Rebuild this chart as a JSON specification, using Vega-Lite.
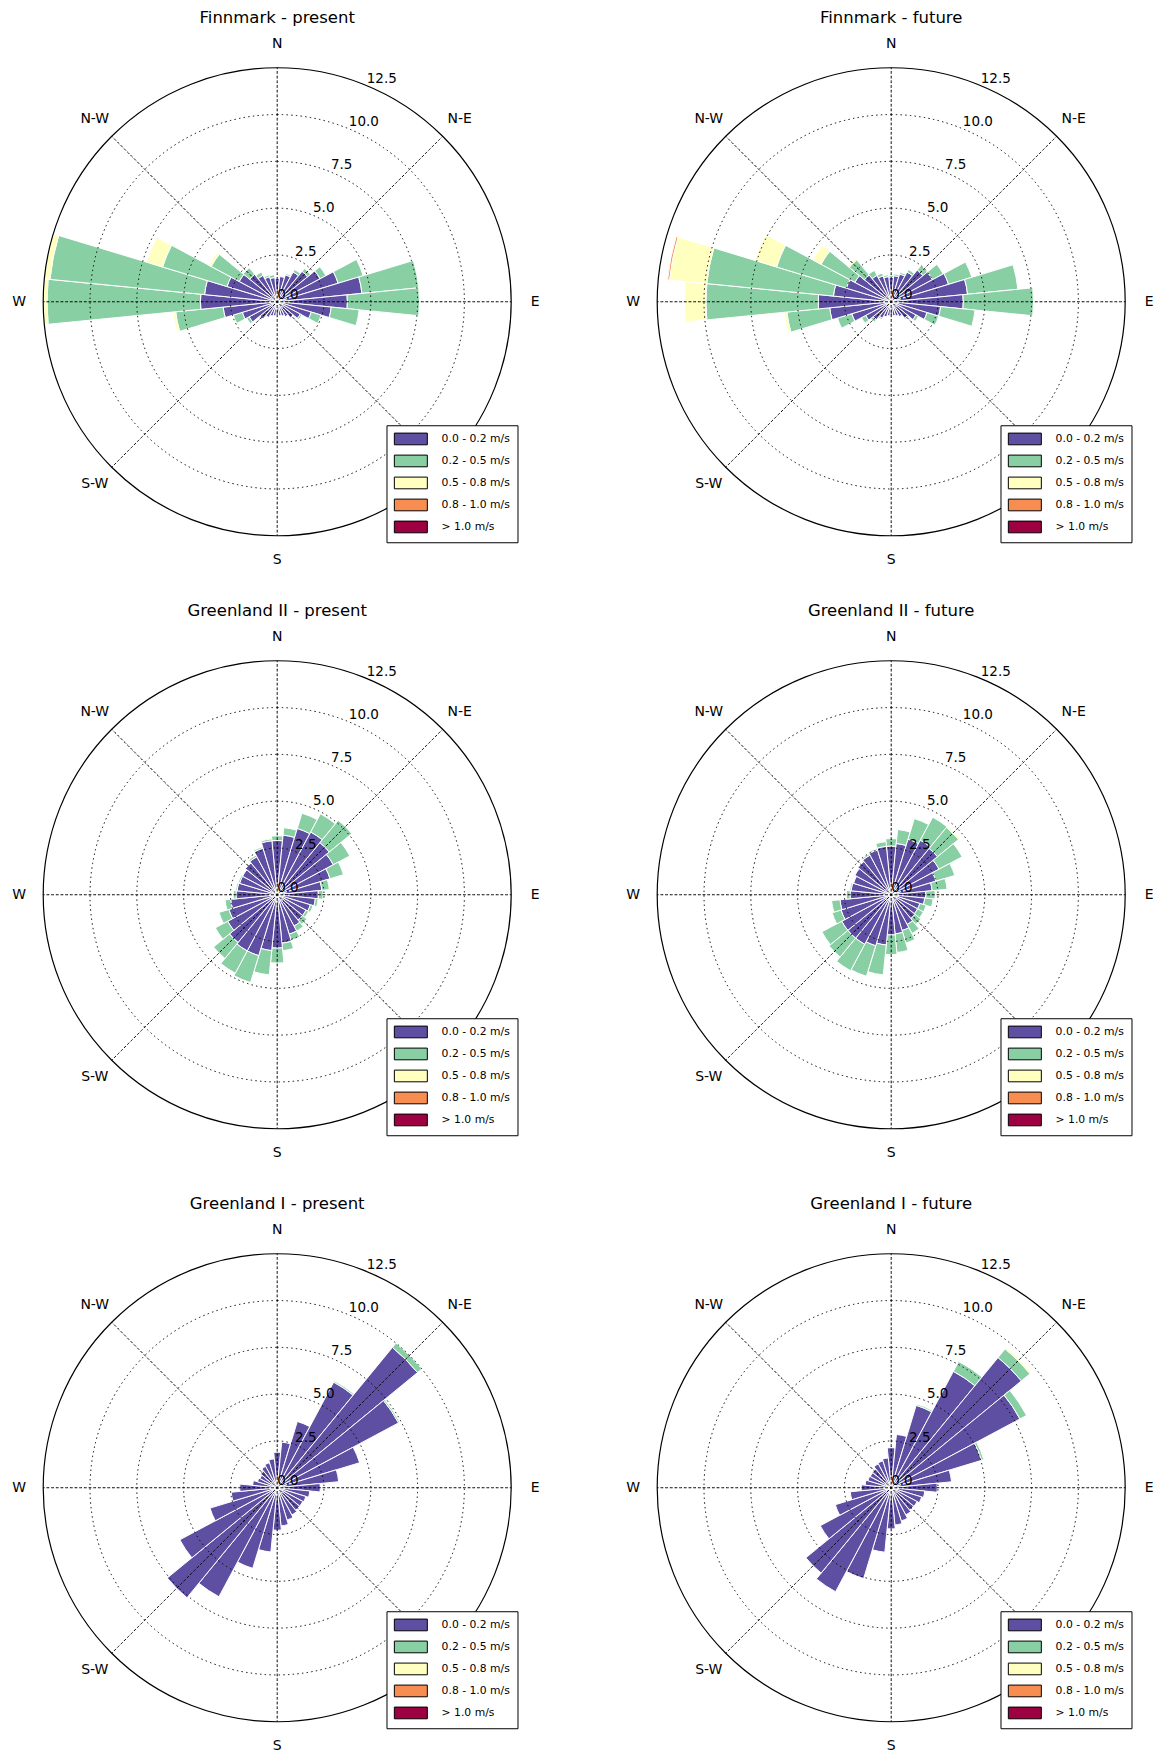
{
  "$schema": "https://vega.github.io/schema/vega-lite/v6.json",
  "background": "white",
  "padding": {"left": 12.2, "top": 9.75, "right": 0, "bottom": 0},
  "autosize": {"type": "pad"},
  "bounds": "flush",
  "columns": 2,
  "spacing": {"row": 61, "column": 86},
  "config": {
    "view": {"stroke": null},
    "font": "DejaVu Sans",
    "title": {"fontSize": 16.5, "font": "DejaVu Sans", "fontWeight": "normal", "color": "black", "anchor": "middle", "baseline": "middle", "offset": 9.5, "frame": "group"},
    "legend": {"padding": 7.2, "rowPadding": 5.0, "labelOffset": 34.9, "labelFontSize": 10.8, "labelFont": "DejaVu Sans", "labelColor": "black", "strokeColor": "black", "fillColor": "white", "symbolStrokeColor": "black", "symbolStrokeWidth": 1, "symbolOpacity": 1, "zindex": 1, "labelLimit": 300}
  },
  "datasets": {
    "rings": [{"r": 2.5}, {"r": 5}, {"r": 7.5}, {"r": 10}],
    "edge": [{"r": 12.5}],
    "spokes": [{"a": 0}, {"a": 45}, {"a": 90}, {"a": 135}, {"a": 180}, {"a": 225}, {"a": 270}, {"a": 315}],
    "ticks": [{"r": 0, "t": "0.0"}, {"r": 2.5, "t": "2.5"}, {"r": 5, "t": "5.0"}, {"r": 7.5, "t": "7.5"}, {"r": 10, "t": "10.0"}, {"r": 12.5, "t": "12.5"}],
    "compass": [{"a": 0, "t": "N"}, {"a": 45, "t": "N-E"}, {"a": 90, "t": "E"}, {"a": 180, "t": "S"}, {"a": 225, "t": "S-W"}, {"a": 270, "t": "W"}, {"a": 315, "t": "N-W"}],
    "wind": [
      {"p":"FP","d":0,"s":"0.0 - 0.2 m/s","f":1.25},
      {"p":"FP","d":11.25,"s":"0.0 - 0.2 m/s","f":1.35},
      {"p":"FP","d":22.5,"s":"0.0 - 0.2 m/s","f":1.5},{"p":"FP","d":22.5,"s":"0.2 - 0.5 m/s","f":0.08},
      {"p":"FP","d":33.75,"s":"0.0 - 0.2 m/s","f":1.8},{"p":"FP","d":33.75,"s":"0.2 - 0.5 m/s","f":0.15},
      {"p":"FP","d":45,"s":"0.0 - 0.2 m/s","f":2.1},{"p":"FP","d":45,"s":"0.2 - 0.5 m/s","f":0.2},
      {"p":"FP","d":56.25,"s":"0.0 - 0.2 m/s","f":2.6},{"p":"FP","d":56.25,"s":"0.2 - 0.5 m/s","f":0.35},
      {"p":"FP","d":67.5,"s":"0.0 - 0.2 m/s","f":3.4},{"p":"FP","d":67.5,"s":"0.2 - 0.5 m/s","f":1.4},
      {"p":"FP","d":78.75,"s":"0.0 - 0.2 m/s","f":4.55},{"p":"FP","d":78.75,"s":"0.2 - 0.5 m/s","f":3.05},
      {"p":"FP","d":90,"s":"0.0 - 0.2 m/s","f":3.75},{"p":"FP","d":90,"s":"0.2 - 0.5 m/s","f":3.85},
      {"p":"FP","d":101.25,"s":"0.0 - 0.2 m/s","f":2.9},{"p":"FP","d":101.25,"s":"0.2 - 0.5 m/s","f":1.5},
      {"p":"FP","d":112.5,"s":"0.0 - 0.2 m/s","f":1.9},{"p":"FP","d":112.5,"s":"0.2 - 0.5 m/s","f":0.55},
      {"p":"FP","d":123.75,"s":"0.0 - 0.2 m/s","f":1.4},{"p":"FP","d":123.75,"s":"0.2 - 0.5 m/s","f":0.1},
      {"p":"FP","d":135,"s":"0.0 - 0.2 m/s","f":1.1},
      {"p":"FP","d":146.25,"s":"0.0 - 0.2 m/s","f":0.9},
      {"p":"FP","d":157.5,"s":"0.0 - 0.2 m/s","f":0.8},
      {"p":"FP","d":168.75,"s":"0.0 - 0.2 m/s","f":0.75},
      {"p":"FP","d":180,"s":"0.0 - 0.2 m/s","f":0.7},
      {"p":"FP","d":191.25,"s":"0.0 - 0.2 m/s","f":0.75},
      {"p":"FP","d":202.5,"s":"0.0 - 0.2 m/s","f":0.8},
      {"p":"FP","d":213.75,"s":"0.0 - 0.2 m/s","f":0.95},
      {"p":"FP","d":225,"s":"0.0 - 0.2 m/s","f":1.2},{"p":"FP","d":225,"s":"0.2 - 0.5 m/s","f":0.08},
      {"p":"FP","d":236.25,"s":"0.0 - 0.2 m/s","f":1.7},{"p":"FP","d":236.25,"s":"0.2 - 0.5 m/s","f":0.15},
      {"p":"FP","d":247.5,"s":"0.0 - 0.2 m/s","f":1.95},{"p":"FP","d":247.5,"s":"0.2 - 0.5 m/s","f":0.5},
      {"p":"FP","d":258.75,"s":"0.0 - 0.2 m/s","f":2.9},{"p":"FP","d":258.75,"s":"0.2 - 0.5 m/s","f":2.55},{"p":"FP","d":258.75,"s":"0.5 - 0.8 m/s","f":0.15},
      {"p":"FP","d":270,"s":"0.0 - 0.2 m/s","f":4.1},{"p":"FP","d":270,"s":"0.2 - 0.5 m/s","f":8.2},{"p":"FP","d":270,"s":"0.5 - 0.8 m/s","f":0.2},
      {"p":"FP","d":281.25,"s":"0.0 - 0.2 m/s","f":3.9},{"p":"FP","d":281.25,"s":"0.2 - 0.5 m/s","f":8.3},{"p":"FP","d":281.25,"s":"0.5 - 0.8 m/s","f":0.3},
      {"p":"FP","d":292.5,"s":"0.0 - 0.2 m/s","f":2.8},{"p":"FP","d":292.5,"s":"0.2 - 0.5 m/s","f":3.6},{"p":"FP","d":292.5,"s":"0.5 - 0.8 m/s","f":0.9},
      {"p":"FP","d":303.75,"s":"0.0 - 0.2 m/s","f":2.3},{"p":"FP","d":303.75,"s":"0.2 - 0.5 m/s","f":1.7},{"p":"FP","d":303.75,"s":"0.5 - 0.8 m/s","f":0.15},
      {"p":"FP","d":315,"s":"0.0 - 0.2 m/s","f":1.9},{"p":"FP","d":315,"s":"0.2 - 0.5 m/s","f":0.45},
      {"p":"FP","d":326.25,"s":"0.0 - 0.2 m/s","f":1.6},{"p":"FP","d":326.25,"s":"0.2 - 0.5 m/s","f":0.2},
      {"p":"FP","d":337.5,"s":"0.0 - 0.2 m/s","f":1.4},{"p":"FP","d":337.5,"s":"0.2 - 0.5 m/s","f":0.1},
      {"p":"FP","d":348.75,"s":"0.0 - 0.2 m/s","f":1.3},{"p":"FP","d":348.75,"s":"0.2 - 0.5 m/s","f":0.15},

      {"p":"FF","d":0,"s":"0.0 - 0.2 m/s","f":1.3},{"p":"FF","d":0,"s":"0.2 - 0.5 m/s","f":0.1},
      {"p":"FF","d":11.25,"s":"0.0 - 0.2 m/s","f":1.4},{"p":"FF","d":11.25,"s":"0.2 - 0.5 m/s","f":0.1},
      {"p":"FF","d":22.5,"s":"0.0 - 0.2 m/s","f":1.55},{"p":"FF","d":22.5,"s":"0.2 - 0.5 m/s","f":0.1},
      {"p":"FF","d":33.75,"s":"0.0 - 0.2 m/s","f":1.8},{"p":"FF","d":33.75,"s":"0.2 - 0.5 m/s","f":0.15},
      {"p":"FF","d":45,"s":"0.0 - 0.2 m/s","f":2.2},{"p":"FF","d":45,"s":"0.2 - 0.5 m/s","f":0.3},
      {"p":"FF","d":56.25,"s":"0.0 - 0.2 m/s","f":2.5},{"p":"FF","d":56.25,"s":"0.2 - 0.5 m/s","f":0.65},
      {"p":"FF","d":67.5,"s":"0.0 - 0.2 m/s","f":3.2},{"p":"FF","d":67.5,"s":"0.2 - 0.5 m/s","f":1.3},
      {"p":"FF","d":78.75,"s":"0.0 - 0.2 m/s","f":4.1},{"p":"FF","d":78.75,"s":"0.2 - 0.5 m/s","f":2.7},
      {"p":"FF","d":90,"s":"0.0 - 0.2 m/s","f":3.85},{"p":"FF","d":90,"s":"0.2 - 0.5 m/s","f":3.75},
      {"p":"FF","d":101.25,"s":"0.0 - 0.2 m/s","f":2.65},{"p":"FF","d":101.25,"s":"0.2 - 0.5 m/s","f":1.85},
      {"p":"FF","d":112.5,"s":"0.0 - 0.2 m/s","f":2.0},{"p":"FF","d":112.5,"s":"0.2 - 0.5 m/s","f":0.65},
      {"p":"FF","d":123.75,"s":"0.0 - 0.2 m/s","f":1.5},{"p":"FF","d":123.75,"s":"0.2 - 0.5 m/s","f":0.15},
      {"p":"FF","d":135,"s":"0.0 - 0.2 m/s","f":1.15},{"p":"FF","d":135,"s":"0.2 - 0.5 m/s","f":0.08},
      {"p":"FF","d":146.25,"s":"0.0 - 0.2 m/s","f":0.9},
      {"p":"FF","d":157.5,"s":"0.0 - 0.2 m/s","f":0.8},
      {"p":"FF","d":168.75,"s":"0.0 - 0.2 m/s","f":0.75},
      {"p":"FF","d":180,"s":"0.0 - 0.2 m/s","f":0.75},
      {"p":"FF","d":191.25,"s":"0.0 - 0.2 m/s","f":0.75},
      {"p":"FF","d":202.5,"s":"0.0 - 0.2 m/s","f":0.85},
      {"p":"FF","d":213.75,"s":"0.0 - 0.2 m/s","f":1.0},{"p":"FF","d":213.75,"s":"0.2 - 0.5 m/s","f":0.08},
      {"p":"FF","d":225,"s":"0.0 - 0.2 m/s","f":1.25},{"p":"FF","d":225,"s":"0.2 - 0.5 m/s","f":0.15},
      {"p":"FF","d":236.25,"s":"0.0 - 0.2 m/s","f":1.55},{"p":"FF","d":236.25,"s":"0.2 - 0.5 m/s","f":0.25},
      {"p":"FF","d":247.5,"s":"0.0 - 0.2 m/s","f":2.2},{"p":"FF","d":247.5,"s":"0.2 - 0.5 m/s","f":0.8},
      {"p":"FF","d":258.75,"s":"0.0 - 0.2 m/s","f":3.3},{"p":"FF","d":258.75,"s":"0.2 - 0.5 m/s","f":2.3},{"p":"FF","d":258.75,"s":"0.5 - 0.8 m/s","f":0.15},
      {"p":"FF","d":270,"s":"0.0 - 0.2 m/s","f":3.9},{"p":"FF","d":270,"s":"0.2 - 0.5 m/s","f":6.0},{"p":"FF","d":270,"s":"0.5 - 0.8 m/s","f":1.15},
      {"p":"FF","d":281.25,"s":"0.0 - 0.2 m/s","f":3.1},{"p":"FF","d":281.25,"s":"0.2 - 0.5 m/s","f":6.8},{"p":"FF","d":281.25,"s":"0.5 - 0.8 m/s","f":2.0},{"p":"FF","d":281.25,"s":"0.8 - 1.0 m/s","f":0.1},
      {"p":"FF","d":292.5,"s":"0.0 - 0.2 m/s","f":2.5},{"p":"FF","d":292.5,"s":"0.2 - 0.5 m/s","f":3.9},{"p":"FF","d":292.5,"s":"0.5 - 0.8 m/s","f":1.2},
      {"p":"FF","d":303.75,"s":"0.0 - 0.2 m/s","f":2.2},{"p":"FF","d":303.75,"s":"0.2 - 0.5 m/s","f":2.05},{"p":"FF","d":303.75,"s":"0.5 - 0.8 m/s","f":0.5},
      {"p":"FF","d":315,"s":"0.0 - 0.2 m/s","f":1.85},{"p":"FF","d":315,"s":"0.2 - 0.5 m/s","f":1.05},{"p":"FF","d":315,"s":"0.5 - 0.8 m/s","f":0.1},
      {"p":"FF","d":326.25,"s":"0.0 - 0.2 m/s","f":1.6},{"p":"FF","d":326.25,"s":"0.2 - 0.5 m/s","f":0.3},
      {"p":"FF","d":337.5,"s":"0.0 - 0.2 m/s","f":1.45},{"p":"FF","d":337.5,"s":"0.2 - 0.5 m/s","f":0.15},
      {"p":"FF","d":348.75,"s":"0.0 - 0.2 m/s","f":1.35},{"p":"FF","d":348.75,"s":"0.2 - 0.5 m/s","f":0.1},

      {"p":"G2P","d":0,"s":"0.0 - 0.2 m/s","f":2.9},{"p":"G2P","d":0,"s":"0.2 - 0.5 m/s","f":0.25},
      {"p":"G2P","d":11.25,"s":"0.0 - 0.2 m/s","f":3.2},{"p":"G2P","d":11.25,"s":"0.2 - 0.5 m/s","f":0.4},
      {"p":"G2P","d":22.5,"s":"0.0 - 0.2 m/s","f":3.7},{"p":"G2P","d":22.5,"s":"0.2 - 0.5 m/s","f":0.85},
      {"p":"G2P","d":33.75,"s":"0.0 - 0.2 m/s","f":3.8},{"p":"G2P","d":33.75,"s":"0.2 - 0.5 m/s","f":1.1},
      {"p":"G2P","d":45,"s":"0.0 - 0.2 m/s","f":3.6},{"p":"G2P","d":45,"s":"0.2 - 0.5 m/s","f":1.55},
      {"p":"G2P","d":56.25,"s":"0.0 - 0.2 m/s","f":3.4},{"p":"G2P","d":56.25,"s":"0.2 - 0.5 m/s","f":1.0},
      {"p":"G2P","d":67.5,"s":"0.0 - 0.2 m/s","f":2.95},{"p":"G2P","d":67.5,"s":"0.2 - 0.5 m/s","f":0.75},
      {"p":"G2P","d":78.75,"s":"0.0 - 0.2 m/s","f":2.4},{"p":"G2P","d":78.75,"s":"0.2 - 0.5 m/s","f":0.4},
      {"p":"G2P","d":90,"s":"0.0 - 0.2 m/s","f":2.2},{"p":"G2P","d":90,"s":"0.2 - 0.5 m/s","f":0.25},
      {"p":"G2P","d":101.25,"s":"0.0 - 0.2 m/s","f":2.05},{"p":"G2P","d":101.25,"s":"0.2 - 0.5 m/s","f":0.15},
      {"p":"G2P","d":112.5,"s":"0.0 - 0.2 m/s","f":1.85},{"p":"G2P","d":112.5,"s":"0.2 - 0.5 m/s","f":0.15},
      {"p":"G2P","d":123.75,"s":"0.0 - 0.2 m/s","f":1.75},{"p":"G2P","d":123.75,"s":"0.2 - 0.5 m/s","f":0.15},
      {"p":"G2P","d":135,"s":"0.0 - 0.2 m/s","f":1.75},{"p":"G2P","d":135,"s":"0.2 - 0.5 m/s","f":0.3},
      {"p":"G2P","d":146.25,"s":"0.0 - 0.2 m/s","f":1.9},{"p":"G2P","d":146.25,"s":"0.2 - 0.5 m/s","f":0.3},
      {"p":"G2P","d":157.5,"s":"0.0 - 0.2 m/s","f":2.2},{"p":"G2P","d":157.5,"s":"0.2 - 0.5 m/s","f":0.35},
      {"p":"G2P","d":168.75,"s":"0.0 - 0.2 m/s","f":2.6},{"p":"G2P","d":168.75,"s":"0.2 - 0.5 m/s","f":0.4},
      {"p":"G2P","d":180,"s":"0.0 - 0.2 m/s","f":2.85},{"p":"G2P","d":180,"s":"0.2 - 0.5 m/s","f":0.8},
      {"p":"G2P","d":191.25,"s":"0.0 - 0.2 m/s","f":3.0},{"p":"G2P","d":191.25,"s":"0.2 - 0.5 m/s","f":1.3},
      {"p":"G2P","d":202.5,"s":"0.0 - 0.2 m/s","f":3.4},{"p":"G2P","d":202.5,"s":"0.2 - 0.5 m/s","f":1.5},
      {"p":"G2P","d":213.75,"s":"0.0 - 0.2 m/s","f":3.4},{"p":"G2P","d":213.75,"s":"0.2 - 0.5 m/s","f":1.35},
      {"p":"G2P","d":225,"s":"0.0 - 0.2 m/s","f":3.3},{"p":"G2P","d":225,"s":"0.2 - 0.5 m/s","f":1.1},
      {"p":"G2P","d":236.25,"s":"0.0 - 0.2 m/s","f":3.0},{"p":"G2P","d":236.25,"s":"0.2 - 0.5 m/s","f":0.75},
      {"p":"G2P","d":247.5,"s":"0.0 - 0.2 m/s","f":2.7},{"p":"G2P","d":247.5,"s":"0.2 - 0.5 m/s","f":0.55},
      {"p":"G2P","d":258.75,"s":"0.0 - 0.2 m/s","f":2.5},{"p":"G2P","d":258.75,"s":"0.2 - 0.5 m/s","f":0.3},
      {"p":"G2P","d":270,"s":"0.0 - 0.2 m/s","f":2.2},{"p":"G2P","d":270,"s":"0.2 - 0.5 m/s","f":0.15},
      {"p":"G2P","d":281.25,"s":"0.0 - 0.2 m/s","f":2.15},{"p":"G2P","d":281.25,"s":"0.2 - 0.5 m/s","f":0.08},
      {"p":"G2P","d":292.5,"s":"0.0 - 0.2 m/s","f":2.1},{"p":"G2P","d":292.5,"s":"0.2 - 0.5 m/s","f":0.08},
      {"p":"G2P","d":303.75,"s":"0.0 - 0.2 m/s","f":2.1},
      {"p":"G2P","d":315,"s":"0.0 - 0.2 m/s","f":2.2},
      {"p":"G2P","d":326.25,"s":"0.0 - 0.2 m/s","f":2.3},{"p":"G2P","d":326.25,"s":"0.2 - 0.5 m/s","f":0.1},
      {"p":"G2P","d":337.5,"s":"0.0 - 0.2 m/s","f":2.6},{"p":"G2P","d":337.5,"s":"0.2 - 0.5 m/s","f":0.08},
      {"p":"G2P","d":348.75,"s":"0.0 - 0.2 m/s","f":2.9},{"p":"G2P","d":348.75,"s":"0.2 - 0.5 m/s","f":0.1},

      {"p":"G2F","d":0,"s":"0.0 - 0.2 m/s","f":2.6},{"p":"G2F","d":0,"s":"0.2 - 0.5 m/s","f":0.4},
      {"p":"G2F","d":11.25,"s":"0.0 - 0.2 m/s","f":2.75},{"p":"G2F","d":11.25,"s":"0.2 - 0.5 m/s","f":0.75},
      {"p":"G2F","d":22.5,"s":"0.0 - 0.2 m/s","f":3.1},{"p":"G2F","d":22.5,"s":"0.2 - 0.5 m/s","f":1.15},
      {"p":"G2F","d":33.75,"s":"0.0 - 0.2 m/s","f":3.3},{"p":"G2F","d":33.75,"s":"0.2 - 0.5 m/s","f":1.4},
      {"p":"G2F","d":45,"s":"0.0 - 0.2 m/s","f":3.2},{"p":"G2F","d":45,"s":"0.2 - 0.5 m/s","f":1.45},{"p":"G2F","d":45,"s":"0.5 - 0.8 m/s","f":0.08},
      {"p":"G2F","d":56.25,"s":"0.0 - 0.2 m/s","f":2.9},{"p":"G2F","d":56.25,"s":"0.2 - 0.5 m/s","f":1.4},
      {"p":"G2F","d":67.5,"s":"0.0 - 0.2 m/s","f":2.5},{"p":"G2F","d":67.5,"s":"0.2 - 0.5 m/s","f":1.05},
      {"p":"G2F","d":78.75,"s":"0.0 - 0.2 m/s","f":2.2},{"p":"G2F","d":78.75,"s":"0.2 - 0.5 m/s","f":0.8},
      {"p":"G2F","d":90,"s":"0.0 - 0.2 m/s","f":1.85},{"p":"G2F","d":90,"s":"0.2 - 0.5 m/s","f":0.5},
      {"p":"G2F","d":101.25,"s":"0.0 - 0.2 m/s","f":1.8},{"p":"G2F","d":101.25,"s":"0.2 - 0.5 m/s","f":0.45},
      {"p":"G2F","d":112.5,"s":"0.0 - 0.2 m/s","f":1.6},{"p":"G2F","d":112.5,"s":"0.2 - 0.5 m/s","f":0.35},
      {"p":"G2F","d":123.75,"s":"0.0 - 0.2 m/s","f":1.6},{"p":"G2F","d":123.75,"s":"0.2 - 0.5 m/s","f":0.35},
      {"p":"G2F","d":135,"s":"0.0 - 0.2 m/s","f":1.65},{"p":"G2F","d":135,"s":"0.2 - 0.5 m/s","f":0.4},
      {"p":"G2F","d":146.25,"s":"0.0 - 0.2 m/s","f":1.8},{"p":"G2F","d":146.25,"s":"0.2 - 0.5 m/s","f":0.55},
      {"p":"G2F","d":157.5,"s":"0.0 - 0.2 m/s","f":2.0},{"p":"G2F","d":157.5,"s":"0.2 - 0.5 m/s","f":0.7},
      {"p":"G2F","d":168.75,"s":"0.0 - 0.2 m/s","f":2.1},{"p":"G2F","d":168.75,"s":"0.2 - 0.5 m/s","f":1.0},
      {"p":"G2F","d":180,"s":"0.0 - 0.2 m/s","f":2.15},{"p":"G2F","d":180,"s":"0.2 - 0.5 m/s","f":1.05},
      {"p":"G2F","d":191.25,"s":"0.0 - 0.2 m/s","f":2.7},{"p":"G2F","d":191.25,"s":"0.2 - 0.5 m/s","f":1.6},
      {"p":"G2F","d":202.5,"s":"0.0 - 0.2 m/s","f":2.85},{"p":"G2F","d":202.5,"s":"0.2 - 0.5 m/s","f":1.7},
      {"p":"G2F","d":213.75,"s":"0.0 - 0.2 m/s","f":3.0},{"p":"G2F","d":213.75,"s":"0.2 - 0.5 m/s","f":1.6},
      {"p":"G2F","d":225,"s":"0.0 - 0.2 m/s","f":3.0},{"p":"G2F","d":225,"s":"0.2 - 0.5 m/s","f":1.3},
      {"p":"G2F","d":236.25,"s":"0.0 - 0.2 m/s","f":3.0},{"p":"G2F","d":236.25,"s":"0.2 - 0.5 m/s","f":1.2},
      {"p":"G2F","d":247.5,"s":"0.0 - 0.2 m/s","f":2.8},{"p":"G2F","d":247.5,"s":"0.2 - 0.5 m/s","f":0.5},
      {"p":"G2F","d":258.75,"s":"0.0 - 0.2 m/s","f":2.75},{"p":"G2F","d":258.75,"s":"0.2 - 0.5 m/s","f":0.45},
      {"p":"G2F","d":270,"s":"0.0 - 0.2 m/s","f":2.2},{"p":"G2F","d":270,"s":"0.2 - 0.5 m/s","f":0.2},
      {"p":"G2F","d":281.25,"s":"0.0 - 0.2 m/s","f":2.15},{"p":"G2F","d":281.25,"s":"0.2 - 0.5 m/s","f":0.08},
      {"p":"G2F","d":292.5,"s":"0.0 - 0.2 m/s","f":2.1},
      {"p":"G2F","d":303.75,"s":"0.0 - 0.2 m/s","f":2.2},
      {"p":"G2F","d":315,"s":"0.0 - 0.2 m/s","f":2.3},
      {"p":"G2F","d":326.25,"s":"0.0 - 0.2 m/s","f":2.4},{"p":"G2F","d":326.25,"s":"0.2 - 0.5 m/s","f":0.08},
      {"p":"G2F","d":337.5,"s":"0.0 - 0.2 m/s","f":2.5},{"p":"G2F","d":337.5,"s":"0.2 - 0.5 m/s","f":0.08},
      {"p":"G2F","d":348.75,"s":"0.0 - 0.2 m/s","f":2.6},{"p":"G2F","d":348.75,"s":"0.2 - 0.5 m/s","f":0.25},

      {"p":"G1P","d":0,"s":"0.0 - 0.2 m/s","f":1.9},
      {"p":"G1P","d":11.25,"s":"0.0 - 0.2 m/s","f":2.45},
      {"p":"G1P","d":22.5,"s":"0.0 - 0.2 m/s","f":3.7},
      {"p":"G1P","d":33.75,"s":"0.0 - 0.2 m/s","f":6.4},{"p":"G1P","d":33.75,"s":"0.2 - 0.5 m/s","f":0.08},
      {"p":"G1P","d":45,"s":"0.0 - 0.2 m/s","f":9.7},{"p":"G1P","d":45,"s":"0.2 - 0.5 m/s","f":0.3},
      {"p":"G1P","d":56.25,"s":"0.0 - 0.2 m/s","f":7.35},{"p":"G1P","d":56.25,"s":"0.2 - 0.5 m/s","f":0.08},
      {"p":"G1P","d":67.5,"s":"0.0 - 0.2 m/s","f":4.6},
      {"p":"G1P","d":78.75,"s":"0.0 - 0.2 m/s","f":3.3},
      {"p":"G1P","d":90,"s":"0.0 - 0.2 m/s","f":2.3},
      {"p":"G1P","d":101.25,"s":"0.0 - 0.2 m/s","f":1.75},
      {"p":"G1P","d":112.5,"s":"0.0 - 0.2 m/s","f":1.6},
      {"p":"G1P","d":123.75,"s":"0.0 - 0.2 m/s","f":1.55},
      {"p":"G1P","d":135,"s":"0.0 - 0.2 m/s","f":1.55},
      {"p":"G1P","d":146.25,"s":"0.0 - 0.2 m/s","f":1.65},
      {"p":"G1P","d":157.5,"s":"0.0 - 0.2 m/s","f":1.8},
      {"p":"G1P","d":168.75,"s":"0.0 - 0.2 m/s","f":2.05},
      {"p":"G1P","d":180,"s":"0.0 - 0.2 m/s","f":2.27},
      {"p":"G1P","d":191.25,"s":"0.0 - 0.2 m/s","f":3.45},
      {"p":"G1P","d":202.5,"s":"0.0 - 0.2 m/s","f":4.5},
      {"p":"G1P","d":213.75,"s":"0.0 - 0.2 m/s","f":6.6},
      {"p":"G1P","d":225,"s":"0.0 - 0.2 m/s","f":7.6},
      {"p":"G1P","d":236.25,"s":"0.0 - 0.2 m/s","f":5.9},
      {"p":"G1P","d":247.5,"s":"0.0 - 0.2 m/s","f":3.75},
      {"p":"G1P","d":258.75,"s":"0.0 - 0.2 m/s","f":2.47},
      {"p":"G1P","d":270,"s":"0.0 - 0.2 m/s","f":2.0},
      {"p":"G1P","d":281.25,"s":"0.0 - 0.2 m/s","f":1.32},
      {"p":"G1P","d":292.5,"s":"0.0 - 0.2 m/s","f":1.1},
      {"p":"G1P","d":303.75,"s":"0.0 - 0.2 m/s","f":1.05},
      {"p":"G1P","d":315,"s":"0.0 - 0.2 m/s","f":1.15},
      {"p":"G1P","d":326.25,"s":"0.0 - 0.2 m/s","f":1.3},
      {"p":"G1P","d":337.5,"s":"0.0 - 0.2 m/s","f":1.4},
      {"p":"G1P","d":348.75,"s":"0.0 - 0.2 m/s","f":1.55},

      {"p":"G1F","d":0,"s":"0.0 - 0.2 m/s","f":2.14},
      {"p":"G1F","d":11.25,"s":"0.0 - 0.2 m/s","f":2.86},
      {"p":"G1F","d":22.5,"s":"0.0 - 0.2 m/s","f":4.6},{"p":"G1F","d":22.5,"s":"0.2 - 0.5 m/s","f":0.08},
      {"p":"G1F","d":33.75,"s":"0.0 - 0.2 m/s","f":7.05},{"p":"G1F","d":33.75,"s":"0.2 - 0.5 m/s","f":0.6},
      {"p":"G1F","d":45,"s":"0.0 - 0.2 m/s","f":9.0},{"p":"G1F","d":45,"s":"0.2 - 0.5 m/s","f":0.6},{"p":"G1F","d":45,"s":"0.5 - 0.8 m/s","f":0.08},
      {"p":"G1F","d":56.25,"s":"0.0 - 0.2 m/s","f":7.8},{"p":"G1F","d":56.25,"s":"0.2 - 0.5 m/s","f":0.4},
      {"p":"G1F","d":67.5,"s":"0.0 - 0.2 m/s","f":5.05},{"p":"G1F","d":67.5,"s":"0.2 - 0.5 m/s","f":0.12},
      {"p":"G1F","d":78.75,"s":"0.0 - 0.2 m/s","f":3.24},
      {"p":"G1F","d":90,"s":"0.0 - 0.2 m/s","f":2.46},
      {"p":"G1F","d":101.25,"s":"0.0 - 0.2 m/s","f":1.8},
      {"p":"G1F","d":112.5,"s":"0.0 - 0.2 m/s","f":1.7},
      {"p":"G1F","d":123.75,"s":"0.0 - 0.2 m/s","f":1.57},
      {"p":"G1F","d":135,"s":"0.0 - 0.2 m/s","f":1.55},
      {"p":"G1F","d":146.25,"s":"0.0 - 0.2 m/s","f":1.65},
      {"p":"G1F","d":157.5,"s":"0.0 - 0.2 m/s","f":1.85},
      {"p":"G1F","d":168.75,"s":"0.0 - 0.2 m/s","f":2.0},
      {"p":"G1F","d":180,"s":"0.0 - 0.2 m/s","f":2.2},
      {"p":"G1F","d":191.25,"s":"0.0 - 0.2 m/s","f":3.46},
      {"p":"G1F","d":202.5,"s":"0.0 - 0.2 m/s","f":5.07},
      {"p":"G1F","d":213.75,"s":"0.0 - 0.2 m/s","f":6.3},
      {"p":"G1F","d":225,"s":"0.0 - 0.2 m/s","f":5.9},
      {"p":"G1F","d":236.25,"s":"0.0 - 0.2 m/s","f":4.3},
      {"p":"G1F","d":247.5,"s":"0.0 - 0.2 m/s","f":3.12},
      {"p":"G1F","d":258.75,"s":"0.0 - 0.2 m/s","f":2.2},
      {"p":"G1F","d":270,"s":"0.0 - 0.2 m/s","f":1.6},
      {"p":"G1F","d":281.25,"s":"0.0 - 0.2 m/s","f":1.4},
      {"p":"G1F","d":292.5,"s":"0.0 - 0.2 m/s","f":1.3},
      {"p":"G1F","d":303.75,"s":"0.0 - 0.2 m/s","f":1.27},
      {"p":"G1F","d":315,"s":"0.0 - 0.2 m/s","f":1.3},
      {"p":"G1F","d":326.25,"s":"0.0 - 0.2 m/s","f":1.45},
      {"p":"G1F","d":337.5,"s":"0.0 - 0.2 m/s","f":1.5},
      {"p":"G1F","d":348.75,"s":"0.0 - 0.2 m/s","f":1.6}
    ]
  },
  "resolve": {"scale": {"color": "independent", "theta": "independent", "radius": "independent"}, "legend": {"color": "independent"}},
  "concat": [
    {
      "width": 528, "height": 532, "title": "Finnmark - present",
      "resolve": {"scale": {"theta": "independent"}},
      "layer": [
        {"data": {"name": "wind"},
         "transform": [{"filter": "datum.p == 'FP'"}, {"stack": "f", "groupby": ["d"], "sort": [{"field": "s", "order": "ascending"}], "as": ["r0", "r1"]}],
         "mark": {"type": "arc", "stroke": "white", "strokeWidth": 1},
         "encoding": {
           "theta": {"field": "d", "type": "ordinal", "scale": {"type": "band", "domain": [0,11.25,22.5,33.75,45,56.25,67.5,78.75,90,101.25,112.5,123.75,135,146.25,157.5,168.75,180,191.25,202.5,213.75,225,236.25,247.5,258.75,270,281.25,292.5,303.75,315,326.25,337.5,348.75], "range": [-0.09817477, 6.18501053], "paddingInner": 0, "paddingOuter": 0}},
           "radius": {"field": "r1", "type": "quantitative", "scale": {"type": "linear", "domain": [0, 12.5], "range": [0, 234]}},
           "radius2": {"field": "r0"},
           "color": {"field": "s", "type": "nominal", "scale": {"domain": ["0.0 - 0.2 m/s", "0.2 - 0.5 m/s", "0.5 - 0.8 m/s", "0.8 - 1.0 m/s", "> 1.0 m/s"], "range": ["#5e4fa2", "#88cfa4", "#ffffbf", "#f88d52", "#9e0142"]},
             "legend": {"orient": "none", "legendX": 373.3, "legendY": 389.5, "title": null, "symbolType": "M-1,-1H4.64V1H-1Z", "symbolSize": 136.9, "encode": {"symbols": {"update": {"stroke": {"value": "black"}, "strokeWidth": {"value": 1}}}}}}
         }},
        {"data": {"name": "rings"}, "mark": {"type": "arc", "filled": false, "stroke": "black", "strokeWidth": 1, "strokeDash": [1.4, 3.28]},
         "encoding": {"theta": {"datum": 0, "type": "quantitative", "scale": {"type": "linear", "domain": [0, 360], "range": [0, 6.2831853072]}}, "theta2": {"datum": 360}, "radius": {"field": "r", "type": "quantitative", "stack": null, "scale": {"type": "linear", "domain": [0, 12.5], "range": [0, 234]}}}},
        {"data": {"name": "edge"}, "mark": {"type": "arc", "filled": false, "stroke": "black", "strokeWidth": 1.2},
         "encoding": {"theta": {"datum": 0, "type": "quantitative", "scale": {"type": "linear", "domain": [0, 360], "range": [0, 6.2831853072]}}, "theta2": {"datum": 360}, "radius": {"field": "r", "type": "quantitative", "stack": null, "scale": {"type": "linear", "domain": [0, 12.5], "range": [0, 234]}}}},
        {"data": {"name": "spokes"}, "mark": {"type": "arc", "filled": false, "stroke": "black", "strokeWidth": 1, "strokeDash": [1.4, 3.28]},
         "encoding": {"theta": {"field": "a", "type": "quantitative", "scale": {"type": "linear", "domain": [0, 360], "range": [0, 6.2831853072]}}, "theta2": {"field": "a"}, "radius": {"datum": 12.5, "type": "quantitative", "stack": null, "scale": {"type": "linear", "domain": [0, 12.5], "range": [0, 234]}}}},
        {"data": {"name": "ticks"}, "mark": {"type": "text", "align": "left", "baseline": "bottom", "fontSize": 13.5, "color": "black"},
         "encoding": {"theta": {"datum": 22.5, "type": "quantitative", "scale": {"type": "linear", "domain": [0, 360], "range": [0, 6.2831853072]}}, "radius": {"field": "r", "type": "quantitative", "stack": null, "scale": {"type": "linear", "domain": [0, 12.5], "range": [0, 234]}}, "text": {"field": "t"}}},
        {"data": {"name": "compass"}, "mark": {"type": "text", "align": "center", "baseline": "middle", "fontSize": 14, "color": "black"},
         "encoding": {"theta": {"field": "a", "type": "quantitative", "scale": {"type": "linear", "domain": [0, 360], "range": [0, 6.2831853072]}}, "radius": {"datum": 13.78, "type": "quantitative", "stack": null, "scale": {"type": "linear", "domain": [0, 12.5], "range": [0, 234]}}, "text": {"field": "t"}}}
      ]
    },
    {
      "width": 528, "height": 532, "title": "Finnmark - future",
      "resolve": {"scale": {"theta": "independent"}},
      "layer": [
        {"data": {"name": "wind"},
         "transform": [{"filter": "datum.p == 'FF'"}, {"stack": "f", "groupby": ["d"], "sort": [{"field": "s", "order": "ascending"}], "as": ["r0", "r1"]}],
         "mark": {"type": "arc", "stroke": "white", "strokeWidth": 1},
         "encoding": {
           "theta": {"field": "d", "type": "ordinal", "scale": {"type": "band", "domain": [0,11.25,22.5,33.75,45,56.25,67.5,78.75,90,101.25,112.5,123.75,135,146.25,157.5,168.75,180,191.25,202.5,213.75,225,236.25,247.5,258.75,270,281.25,292.5,303.75,315,326.25,337.5,348.75], "range": [-0.09817477, 6.18501053], "paddingInner": 0, "paddingOuter": 0}},
           "radius": {"field": "r1", "type": "quantitative", "scale": {"type": "linear", "domain": [0, 12.5], "range": [0, 234]}},
           "radius2": {"field": "r0"},
           "color": {"field": "s", "type": "nominal", "scale": {"domain": ["0.0 - 0.2 m/s", "0.2 - 0.5 m/s", "0.5 - 0.8 m/s", "0.8 - 1.0 m/s", "> 1.0 m/s"], "range": ["#5e4fa2", "#88cfa4", "#ffffbf", "#f88d52", "#9e0142"]},
             "legend": {"orient": "none", "legendX": 373.3, "legendY": 389.5, "title": null, "symbolType": "M-1,-1H4.64V1H-1Z", "symbolSize": 136.9, "encode": {"symbols": {"update": {"stroke": {"value": "black"}, "strokeWidth": {"value": 1}}}}}}
         }},
        {"data": {"name": "rings"}, "mark": {"type": "arc", "filled": false, "stroke": "black", "strokeWidth": 1, "strokeDash": [1.4, 3.28]},
         "encoding": {"theta": {"datum": 0, "type": "quantitative", "scale": {"type": "linear", "domain": [0, 360], "range": [0, 6.2831853072]}}, "theta2": {"datum": 360}, "radius": {"field": "r", "type": "quantitative", "stack": null, "scale": {"type": "linear", "domain": [0, 12.5], "range": [0, 234]}}}},
        {"data": {"name": "edge"}, "mark": {"type": "arc", "filled": false, "stroke": "black", "strokeWidth": 1.2},
         "encoding": {"theta": {"datum": 0, "type": "quantitative", "scale": {"type": "linear", "domain": [0, 360], "range": [0, 6.2831853072]}}, "theta2": {"datum": 360}, "radius": {"field": "r", "type": "quantitative", "stack": null, "scale": {"type": "linear", "domain": [0, 12.5], "range": [0, 234]}}}},
        {"data": {"name": "spokes"}, "mark": {"type": "arc", "filled": false, "stroke": "black", "strokeWidth": 1, "strokeDash": [1.4, 3.28]},
         "encoding": {"theta": {"field": "a", "type": "quantitative", "scale": {"type": "linear", "domain": [0, 360], "range": [0, 6.2831853072]}}, "theta2": {"field": "a"}, "radius": {"datum": 12.5, "type": "quantitative", "stack": null, "scale": {"type": "linear", "domain": [0, 12.5], "range": [0, 234]}}}},
        {"data": {"name": "ticks"}, "mark": {"type": "text", "align": "left", "baseline": "bottom", "fontSize": 13.5, "color": "black"},
         "encoding": {"theta": {"datum": 22.5, "type": "quantitative", "scale": {"type": "linear", "domain": [0, 360], "range": [0, 6.2831853072]}}, "radius": {"field": "r", "type": "quantitative", "stack": null, "scale": {"type": "linear", "domain": [0, 12.5], "range": [0, 234]}}, "text": {"field": "t"}}},
        {"data": {"name": "compass"}, "mark": {"type": "text", "align": "center", "baseline": "middle", "fontSize": 14, "color": "black"},
         "encoding": {"theta": {"field": "a", "type": "quantitative", "scale": {"type": "linear", "domain": [0, 360], "range": [0, 6.2831853072]}}, "radius": {"datum": 13.78, "type": "quantitative", "stack": null, "scale": {"type": "linear", "domain": [0, 12.5], "range": [0, 234]}}, "text": {"field": "t"}}}
      ]
    },
    {
      "width": 528, "height": 532, "title": "Greenland II - present",
      "resolve": {"scale": {"theta": "independent"}},
      "layer": [
        {"data": {"name": "wind"},
         "transform": [{"filter": "datum.p == 'G2P'"}, {"stack": "f", "groupby": ["d"], "sort": [{"field": "s", "order": "ascending"}], "as": ["r0", "r1"]}],
         "mark": {"type": "arc", "stroke": "white", "strokeWidth": 1},
         "encoding": {
           "theta": {"field": "d", "type": "ordinal", "scale": {"type": "band", "domain": [0,11.25,22.5,33.75,45,56.25,67.5,78.75,90,101.25,112.5,123.75,135,146.25,157.5,168.75,180,191.25,202.5,213.75,225,236.25,247.5,258.75,270,281.25,292.5,303.75,315,326.25,337.5,348.75], "range": [-0.09817477, 6.18501053], "paddingInner": 0, "paddingOuter": 0}},
           "radius": {"field": "r1", "type": "quantitative", "scale": {"type": "linear", "domain": [0, 12.5], "range": [0, 234]}},
           "radius2": {"field": "r0"},
           "color": {"field": "s", "type": "nominal", "scale": {"domain": ["0.0 - 0.2 m/s", "0.2 - 0.5 m/s", "0.5 - 0.8 m/s", "0.8 - 1.0 m/s", "> 1.0 m/s"], "range": ["#5e4fa2", "#88cfa4", "#ffffbf", "#f88d52", "#9e0142"]},
             "legend": {"orient": "none", "legendX": 373.3, "legendY": 389.5, "title": null, "symbolType": "M-1,-1H4.64V1H-1Z", "symbolSize": 136.9, "encode": {"symbols": {"update": {"stroke": {"value": "black"}, "strokeWidth": {"value": 1}}}}}}
         }},
        {"data": {"name": "rings"}, "mark": {"type": "arc", "filled": false, "stroke": "black", "strokeWidth": 1, "strokeDash": [1.4, 3.28]},
         "encoding": {"theta": {"datum": 0, "type": "quantitative", "scale": {"type": "linear", "domain": [0, 360], "range": [0, 6.2831853072]}}, "theta2": {"datum": 360}, "radius": {"field": "r", "type": "quantitative", "stack": null, "scale": {"type": "linear", "domain": [0, 12.5], "range": [0, 234]}}}},
        {"data": {"name": "edge"}, "mark": {"type": "arc", "filled": false, "stroke": "black", "strokeWidth": 1.2},
         "encoding": {"theta": {"datum": 0, "type": "quantitative", "scale": {"type": "linear", "domain": [0, 360], "range": [0, 6.2831853072]}}, "theta2": {"datum": 360}, "radius": {"field": "r", "type": "quantitative", "stack": null, "scale": {"type": "linear", "domain": [0, 12.5], "range": [0, 234]}}}},
        {"data": {"name": "spokes"}, "mark": {"type": "arc", "filled": false, "stroke": "black", "strokeWidth": 1, "strokeDash": [1.4, 3.28]},
         "encoding": {"theta": {"field": "a", "type": "quantitative", "scale": {"type": "linear", "domain": [0, 360], "range": [0, 6.2831853072]}}, "theta2": {"field": "a"}, "radius": {"datum": 12.5, "type": "quantitative", "stack": null, "scale": {"type": "linear", "domain": [0, 12.5], "range": [0, 234]}}}},
        {"data": {"name": "ticks"}, "mark": {"type": "text", "align": "left", "baseline": "bottom", "fontSize": 13.5, "color": "black"},
         "encoding": {"theta": {"datum": 22.5, "type": "quantitative", "scale": {"type": "linear", "domain": [0, 360], "range": [0, 6.2831853072]}}, "radius": {"field": "r", "type": "quantitative", "stack": null, "scale": {"type": "linear", "domain": [0, 12.5], "range": [0, 234]}}, "text": {"field": "t"}}},
        {"data": {"name": "compass"}, "mark": {"type": "text", "align": "center", "baseline": "middle", "fontSize": 14, "color": "black"},
         "encoding": {"theta": {"field": "a", "type": "quantitative", "scale": {"type": "linear", "domain": [0, 360], "range": [0, 6.2831853072]}}, "radius": {"datum": 13.78, "type": "quantitative", "stack": null, "scale": {"type": "linear", "domain": [0, 12.5], "range": [0, 234]}}, "text": {"field": "t"}}}
      ]
    },
    {
      "width": 528, "height": 532, "title": "Greenland II - future",
      "resolve": {"scale": {"theta": "independent"}},
      "layer": [
        {"data": {"name": "wind"},
         "transform": [{"filter": "datum.p == 'G2F'"}, {"stack": "f", "groupby": ["d"], "sort": [{"field": "s", "order": "ascending"}], "as": ["r0", "r1"]}],
         "mark": {"type": "arc", "stroke": "white", "strokeWidth": 1},
         "encoding": {
           "theta": {"field": "d", "type": "ordinal", "scale": {"type": "band", "domain": [0,11.25,22.5,33.75,45,56.25,67.5,78.75,90,101.25,112.5,123.75,135,146.25,157.5,168.75,180,191.25,202.5,213.75,225,236.25,247.5,258.75,270,281.25,292.5,303.75,315,326.25,337.5,348.75], "range": [-0.09817477, 6.18501053], "paddingInner": 0, "paddingOuter": 0}},
           "radius": {"field": "r1", "type": "quantitative", "scale": {"type": "linear", "domain": [0, 12.5], "range": [0, 234]}},
           "radius2": {"field": "r0"},
           "color": {"field": "s", "type": "nominal", "scale": {"domain": ["0.0 - 0.2 m/s", "0.2 - 0.5 m/s", "0.5 - 0.8 m/s", "0.8 - 1.0 m/s", "> 1.0 m/s"], "range": ["#5e4fa2", "#88cfa4", "#ffffbf", "#f88d52", "#9e0142"]},
             "legend": {"orient": "none", "legendX": 373.3, "legendY": 389.5, "title": null, "symbolType": "M-1,-1H4.64V1H-1Z", "symbolSize": 136.9, "encode": {"symbols": {"update": {"stroke": {"value": "black"}, "strokeWidth": {"value": 1}}}}}}
         }},
        {"data": {"name": "rings"}, "mark": {"type": "arc", "filled": false, "stroke": "black", "strokeWidth": 1, "strokeDash": [1.4, 3.28]},
         "encoding": {"theta": {"datum": 0, "type": "quantitative", "scale": {"type": "linear", "domain": [0, 360], "range": [0, 6.2831853072]}}, "theta2": {"datum": 360}, "radius": {"field": "r", "type": "quantitative", "stack": null, "scale": {"type": "linear", "domain": [0, 12.5], "range": [0, 234]}}}},
        {"data": {"name": "edge"}, "mark": {"type": "arc", "filled": false, "stroke": "black", "strokeWidth": 1.2},
         "encoding": {"theta": {"datum": 0, "type": "quantitative", "scale": {"type": "linear", "domain": [0, 360], "range": [0, 6.2831853072]}}, "theta2": {"datum": 360}, "radius": {"field": "r", "type": "quantitative", "stack": null, "scale": {"type": "linear", "domain": [0, 12.5], "range": [0, 234]}}}},
        {"data": {"name": "spokes"}, "mark": {"type": "arc", "filled": false, "stroke": "black", "strokeWidth": 1, "strokeDash": [1.4, 3.28]},
         "encoding": {"theta": {"field": "a", "type": "quantitative", "scale": {"type": "linear", "domain": [0, 360], "range": [0, 6.2831853072]}}, "theta2": {"field": "a"}, "radius": {"datum": 12.5, "type": "quantitative", "stack": null, "scale": {"type": "linear", "domain": [0, 12.5], "range": [0, 234]}}}},
        {"data": {"name": "ticks"}, "mark": {"type": "text", "align": "left", "baseline": "bottom", "fontSize": 13.5, "color": "black"},
         "encoding": {"theta": {"datum": 22.5, "type": "quantitative", "scale": {"type": "linear", "domain": [0, 360], "range": [0, 6.2831853072]}}, "radius": {"field": "r", "type": "quantitative", "stack": null, "scale": {"type": "linear", "domain": [0, 12.5], "range": [0, 234]}}, "text": {"field": "t"}}},
        {"data": {"name": "compass"}, "mark": {"type": "text", "align": "center", "baseline": "middle", "fontSize": 14, "color": "black"},
         "encoding": {"theta": {"field": "a", "type": "quantitative", "scale": {"type": "linear", "domain": [0, 360], "range": [0, 6.2831853072]}}, "radius": {"datum": 13.78, "type": "quantitative", "stack": null, "scale": {"type": "linear", "domain": [0, 12.5], "range": [0, 234]}}, "text": {"field": "t"}}}
      ]
    },
    {
      "width": 528, "height": 532, "title": "Greenland I - present",
      "resolve": {"scale": {"theta": "independent"}},
      "layer": [
        {"data": {"name": "wind"},
         "transform": [{"filter": "datum.p == 'G1P'"}, {"stack": "f", "groupby": ["d"], "sort": [{"field": "s", "order": "ascending"}], "as": ["r0", "r1"]}],
         "mark": {"type": "arc", "stroke": "white", "strokeWidth": 1},
         "encoding": {
           "theta": {"field": "d", "type": "ordinal", "scale": {"type": "band", "domain": [0,11.25,22.5,33.75,45,56.25,67.5,78.75,90,101.25,112.5,123.75,135,146.25,157.5,168.75,180,191.25,202.5,213.75,225,236.25,247.5,258.75,270,281.25,292.5,303.75,315,326.25,337.5,348.75], "range": [-0.09817477, 6.18501053], "paddingInner": 0, "paddingOuter": 0}},
           "radius": {"field": "r1", "type": "quantitative", "scale": {"type": "linear", "domain": [0, 12.5], "range": [0, 234]}},
           "radius2": {"field": "r0"},
           "color": {"field": "s", "type": "nominal", "scale": {"domain": ["0.0 - 0.2 m/s", "0.2 - 0.5 m/s", "0.5 - 0.8 m/s", "0.8 - 1.0 m/s", "> 1.0 m/s"], "range": ["#5e4fa2", "#88cfa4", "#ffffbf", "#f88d52", "#9e0142"]},
             "legend": {"orient": "none", "legendX": 373.3, "legendY": 389.5, "title": null, "symbolType": "M-1,-1H4.64V1H-1Z", "symbolSize": 136.9, "encode": {"symbols": {"update": {"stroke": {"value": "black"}, "strokeWidth": {"value": 1}}}}}}
         }},
        {"data": {"name": "rings"}, "mark": {"type": "arc", "filled": false, "stroke": "black", "strokeWidth": 1, "strokeDash": [1.4, 3.28]},
         "encoding": {"theta": {"datum": 0, "type": "quantitative", "scale": {"type": "linear", "domain": [0, 360], "range": [0, 6.2831853072]}}, "theta2": {"datum": 360}, "radius": {"field": "r", "type": "quantitative", "stack": null, "scale": {"type": "linear", "domain": [0, 12.5], "range": [0, 234]}}}},
        {"data": {"name": "edge"}, "mark": {"type": "arc", "filled": false, "stroke": "black", "strokeWidth": 1.2},
         "encoding": {"theta": {"datum": 0, "type": "quantitative", "scale": {"type": "linear", "domain": [0, 360], "range": [0, 6.2831853072]}}, "theta2": {"datum": 360}, "radius": {"field": "r", "type": "quantitative", "stack": null, "scale": {"type": "linear", "domain": [0, 12.5], "range": [0, 234]}}}},
        {"data": {"name": "spokes"}, "mark": {"type": "arc", "filled": false, "stroke": "black", "strokeWidth": 1, "strokeDash": [1.4, 3.28]},
         "encoding": {"theta": {"field": "a", "type": "quantitative", "scale": {"type": "linear", "domain": [0, 360], "range": [0, 6.2831853072]}}, "theta2": {"field": "a"}, "radius": {"datum": 12.5, "type": "quantitative", "stack": null, "scale": {"type": "linear", "domain": [0, 12.5], "range": [0, 234]}}}},
        {"data": {"name": "ticks"}, "mark": {"type": "text", "align": "left", "baseline": "bottom", "fontSize": 13.5, "color": "black"},
         "encoding": {"theta": {"datum": 22.5, "type": "quantitative", "scale": {"type": "linear", "domain": [0, 360], "range": [0, 6.2831853072]}}, "radius": {"field": "r", "type": "quantitative", "stack": null, "scale": {"type": "linear", "domain": [0, 12.5], "range": [0, 234]}}, "text": {"field": "t"}}},
        {"data": {"name": "compass"}, "mark": {"type": "text", "align": "center", "baseline": "middle", "fontSize": 14, "color": "black"},
         "encoding": {"theta": {"field": "a", "type": "quantitative", "scale": {"type": "linear", "domain": [0, 360], "range": [0, 6.2831853072]}}, "radius": {"datum": 13.78, "type": "quantitative", "stack": null, "scale": {"type": "linear", "domain": [0, 12.5], "range": [0, 234]}}, "text": {"field": "t"}}}
      ]
    },
    {
      "width": 528, "height": 532, "title": "Greenland I - future",
      "resolve": {"scale": {"theta": "independent"}},
      "layer": [
        {"data": {"name": "wind"},
         "transform": [{"filter": "datum.p == 'G1F'"}, {"stack": "f", "groupby": ["d"], "sort": [{"field": "s", "order": "ascending"}], "as": ["r0", "r1"]}],
         "mark": {"type": "arc", "stroke": "white", "strokeWidth": 1},
         "encoding": {
           "theta": {"field": "d", "type": "ordinal", "scale": {"type": "band", "domain": [0,11.25,22.5,33.75,45,56.25,67.5,78.75,90,101.25,112.5,123.75,135,146.25,157.5,168.75,180,191.25,202.5,213.75,225,236.25,247.5,258.75,270,281.25,292.5,303.75,315,326.25,337.5,348.75], "range": [-0.09817477, 6.18501053], "paddingInner": 0, "paddingOuter": 0}},
           "radius": {"field": "r1", "type": "quantitative", "scale": {"type": "linear", "domain": [0, 12.5], "range": [0, 234]}},
           "radius2": {"field": "r0"},
           "color": {"field": "s", "type": "nominal", "scale": {"domain": ["0.0 - 0.2 m/s", "0.2 - 0.5 m/s", "0.5 - 0.8 m/s", "0.8 - 1.0 m/s", "> 1.0 m/s"], "range": ["#5e4fa2", "#88cfa4", "#ffffbf", "#f88d52", "#9e0142"]},
             "legend": {"orient": "none", "legendX": 373.3, "legendY": 389.5, "title": null, "symbolType": "M-1,-1H4.64V1H-1Z", "symbolSize": 136.9, "encode": {"symbols": {"update": {"stroke": {"value": "black"}, "strokeWidth": {"value": 1}}}}}}
         }},
        {"data": {"name": "rings"}, "mark": {"type": "arc", "filled": false, "stroke": "black", "strokeWidth": 1, "strokeDash": [1.4, 3.28]},
         "encoding": {"theta": {"datum": 0, "type": "quantitative", "scale": {"type": "linear", "domain": [0, 360], "range": [0, 6.2831853072]}}, "theta2": {"datum": 360}, "radius": {"field": "r", "type": "quantitative", "stack": null, "scale": {"type": "linear", "domain": [0, 12.5], "range": [0, 234]}}}},
        {"data": {"name": "edge"}, "mark": {"type": "arc", "filled": false, "stroke": "black", "strokeWidth": 1.2},
         "encoding": {"theta": {"datum": 0, "type": "quantitative", "scale": {"type": "linear", "domain": [0, 360], "range": [0, 6.2831853072]}}, "theta2": {"datum": 360}, "radius": {"field": "r", "type": "quantitative", "stack": null, "scale": {"type": "linear", "domain": [0, 12.5], "range": [0, 234]}}}},
        {"data": {"name": "spokes"}, "mark": {"type": "arc", "filled": false, "stroke": "black", "strokeWidth": 1, "strokeDash": [1.4, 3.28]},
         "encoding": {"theta": {"field": "a", "type": "quantitative", "scale": {"type": "linear", "domain": [0, 360], "range": [0, 6.2831853072]}}, "theta2": {"field": "a"}, "radius": {"datum": 12.5, "type": "quantitative", "stack": null, "scale": {"type": "linear", "domain": [0, 12.5], "range": [0, 234]}}}},
        {"data": {"name": "ticks"}, "mark": {"type": "text", "align": "left", "baseline": "bottom", "fontSize": 13.5, "color": "black"},
         "encoding": {"theta": {"datum": 22.5, "type": "quantitative", "scale": {"type": "linear", "domain": [0, 360], "range": [0, 6.2831853072]}}, "radius": {"field": "r", "type": "quantitative", "stack": null, "scale": {"type": "linear", "domain": [0, 12.5], "range": [0, 234]}}, "text": {"field": "t"}}},
        {"data": {"name": "compass"}, "mark": {"type": "text", "align": "center", "baseline": "middle", "fontSize": 14, "color": "black"},
         "encoding": {"theta": {"field": "a", "type": "quantitative", "scale": {"type": "linear", "domain": [0, 360], "range": [0, 6.2831853072]}}, "radius": {"datum": 13.78, "type": "quantitative", "stack": null, "scale": {"type": "linear", "domain": [0, 12.5], "range": [0, 234]}}, "text": {"field": "t"}}}
      ]
    }
  ]
}
